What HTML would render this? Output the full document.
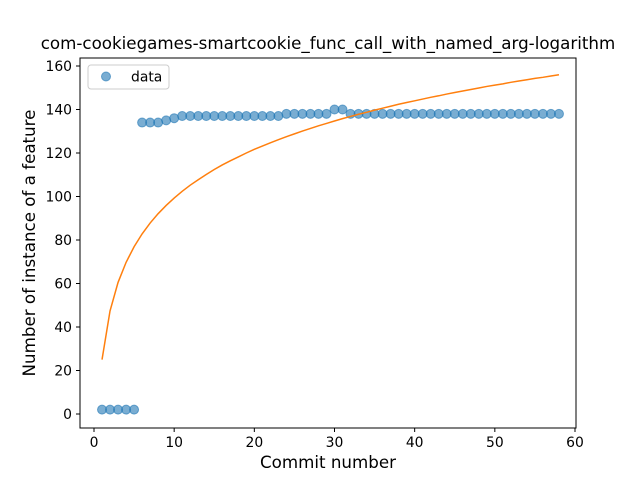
<!DOCTYPE html>
<html><head><meta charset="utf-8"><style>body{margin:0;background:#fff}svg{font-family:"DejaVu Sans","Liberation Sans",sans-serif}</style></head>
<body>
<svg id="chart" width="640" height="480">
<rect width="640" height="480" fill="#fff"/>
<text x="328" y="49" text-anchor="middle" font-size="16.7">com-cookiegames-smartcookie_func_call_with_named_arg-logarithm</text>
<g id="plot"></g>
<rect x="80" y="58" width="496" height="370" fill="none" stroke="#000" stroke-width="1"/>
<text x="328" y="468" text-anchor="middle" font-size="16.7">Commit number</text>
<text transform="translate(35,243) rotate(-90)" text-anchor="middle" font-size="16.7">Number of instance of a feature</text>
<g>
<rect x="88" y="65" width="81" height="24" rx="3" fill="#fff" stroke="#ccc"/>
<circle cx="106" cy="76.5" r="4.5" fill="#1f77b4" fill-opacity="0.6" stroke="#1f77b4" stroke-opacity="0.6"/>
<text x="131" y="81.5" font-size="13.9">data</text>
</g>
</svg>
<script>
const xData = [1,2,3,4,5,6,7,8,9,10,11,12,13,14,15,16,17,18,19,20,21,22,23,24,25,26,27,28,29,30,31,32,33,34,35,36,37,38,39,40,41,42,43,44,45,46,47,48,49,50,51,52,53,54,55,56,57,58];
const yData = [2,2,2,2,2,134,134,134,135,136,137,137,137,137,137,137,137,137,137,137,137,137,137,138,138,138,138,138,138,140,140,138,138,138,138,138,138,138,138,138,138,138,138,138,138,138,138,138,138,138,138,138,138,138,138,138,138,138];
const yFit = [25.0,47.4,60.5,69.7,76.9,82.8,87.8,92.1,95.9,99.3,102.4,105.2,107.7,110.1,112.4,114.5,116.4,118.2,120.0,121.7,123.2,124.7,126.1,127.5,128.8,130.1,131.3,132.5,133.6,134.7,135.8,136.8,137.8,138.7,139.7,140.6,141.5,142.4,143.2,144.0,144.8,145.6,146.3,147.1,147.8,148.5,149.2,149.9,150.6,151.2,151.8,152.5,153.1,153.7,154.3,154.8,155.4,156.0];
const xTicks = [0,10,20,30,40,50,60];
const yTicks = [0,20,40,60,80,100,120,140,160];
const NS="http://www.w3.org/2000/svg";
const sx = v => 94 + v*(575-94)/60;
const sy = v => 414 - v*(414-66)/160;
const g = document.getElementById('plot');
function mk(t,a){const e=document.createElementNS(NS,t);for(const k in a)e.setAttribute(k,a[k]);return e;}
xTicks.forEach(t=>{
  const l=mk('line',{x1:sx(t),x2:sx(t),y1:428,y2:432,stroke:'#000'});
  
  
  g.appendChild(l);
  const tx=mk('text',{x:sx(t),y:447,'text-anchor':'middle','font-size':'13.9'});
  tx.textContent=t;
  
  
  g.appendChild(tx);
});
yTicks.forEach(t=>{
  const l=mk('line',{x1:76,x2:80,y1:sy(t),y2:sy(t),stroke:'#000'});
  
  
  g.appendChild(l);
  const tx=mk('text',{x:72,y:sy(t)+5,'text-anchor':'end','font-size':'13.9'});
  tx.textContent=t;
  
  
  g.appendChild(tx);
});
xData.forEach((x,i)=>{
  const c=mk('circle',{cx:sx(x),cy:sy(yData[i]),r:4.5,fill:'#1f77b4','fill-opacity':0.6,stroke:'#1f77b4','stroke-opacity':0.6});
  
  
  g.appendChild(c);
});
const p=mk('polyline',{points:xData.map((x,i)=>sx(x)+','+sy(yFit[i])).join(' '),fill:'none',stroke:'#ff7f0e','stroke-width':1.5});


g.appendChild(p);
</script>
</body></html>
